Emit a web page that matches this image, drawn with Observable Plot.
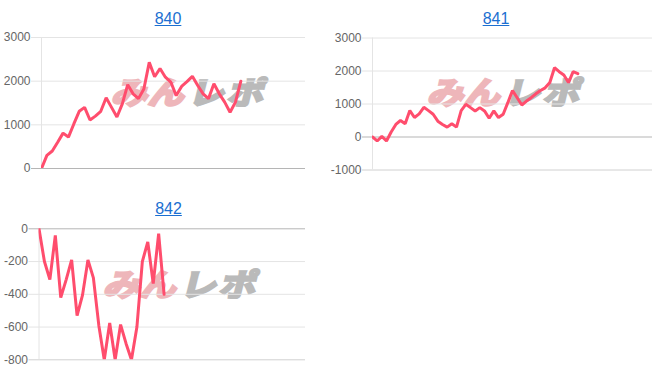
<!DOCTYPE html>
<html>
<head>
<meta charset="utf-8">
<script src="https://cdn.jsdelivr.net/npm/d3@7"></script>
<script src="https://cdn.jsdelivr.net/npm/@observablehq/plot@0.6"></script>
<style>
  body { margin: 0; background: #fff; font-family: "Liberation Sans", Arial, sans-serif; }
  #page { position: relative; width: 652px; height: 382px; overflow: hidden; }
  .title { position: absolute; width: 100px; text-align: center; font-size: 16px; line-height: 16px; }
  .title a { color: #1b6fd1; text-decoration: underline; }
  .wm { position: absolute; font-family: "Noto Sans CJK JP", sans-serif; font-weight: 700; font-size: 31px; line-height: 31px; white-space: nowrap; transform-origin: left top; transform: skewX(-14deg) scaleX(1.18); }
  .wm .p { color: #eeb6ba; -webkit-text-stroke: 2.5px #eeb6ba; }
  .wm .g { color: #bababa; -webkit-text-stroke: 2.5px #bababa; margin-left: 3px; letter-spacing: 2px; }
  .chart { position: absolute; }
  .chart svg { display: block; }
</style>
</head>
<body>
<div id="page"></div>
<script>
// ---- data ----
const titles = ["840", "841", "842"];

const values840 = [0, 300, 400, 600, 810, 720, 1020, 1310, 1400, 1110, 1200, 1310, 1620, 1400, 1180,
  1480, 1920, 1710, 1600, 1820, 2430, 2100, 2290, 2090, 1980, 1670, 1880, 1990, 2110, 1900,
  1710, 1600, 1940, 1710, 1520, 1290, 1520, 2000];
const values841 = [0, -120, 20, -120, 150, 380, 500, 400, 800, 590, 700, 900, 800, 690, 480,
  380, 300, 400, 300, 800, 990, 890, 790, 890, 790, 570, 790, 590, 690, 1040,
  1410, 1190, 970, 1090, 1190, 1310, 1410, 1490, 1650, 2100, 1980, 1880, 1650, 1980, 1920];
const values842 = [0, -200, -310, -40, -420, -310, -190, -530, -405, -190, -300, -590, -800, -575, -800,
  -585, -700, -800, -600, -200, -80, -335, -30, -400];

const ticks840 = [0, 1000, 2000, 3000];
const ticks841 = [-1000, 0, 1000, 2000, 3000];
const ticks842 = [-800, -600, -400, -200, 0];

const watermark = ["みん", "レポ"];

// ---- layout ----
const page = document.getElementById("page");

function addTitle(text, cx, top) {
  const d = document.createElement("div");
  d.className = "title";
  d.style.left = (cx - 50) + "px";
  d.style.top = top + "px";
  const a = document.createElement("a");
  a.href = "#";
  a.textContent = text;
  d.appendChild(a);
  page.appendChild(d);
}

function addWatermark(left, top) {
  const d = document.createElement("div");
  d.className = "wm";
  d.style.left = left + "px";
  d.style.top = top + "px";
  d.innerHTML = `<span class="p">${watermark[0]}</span><span class="g">${watermark[1]}</span>`;
  page.appendChild(d);
}

function addChart(opts) {
  const data = opts.values.map((v, i) => ({i, v}));
  const svg = Plot.plot({
    width: opts.width,
    height: 150,
    marginLeft: opts.ml,
    marginRight: opts.mr,
    marginTop: opts.mt,
    marginBottom: opts.mb,
    style: {background: "transparent", fontFamily: "'Liberation Sans', Arial, sans-serif", fontSize: "12px", color: "#666", overflow: "visible"},
    x: {domain: [0, opts.xmax], axis: null},
    y: {domain: opts.domain, ticks: opts.ticks, tickFormat: d => String(d), tickSize: 0, tickPadding: 11, label: null},
    marks: [
      Plot.ruleY(opts.ticks, {stroke: d => d === 0 ? "#b5b5b5" : (d === opts.domain[0] ? "#d0d0d0" : "#e4e4e4"), insetLeft: -10}),
      Plot.ruleX([0], {stroke: "#e4e4e4"}),
      Plot.line(data, {x: "i", y: "v", stroke: "#ff4d6d", strokeWidth: 3, strokeLinejoin: "miter", clip: true})
    ]
  });
  const wrap = document.createElement("div");
  wrap.className = "chart";
  wrap.style.left = opts.left + "px";
  wrap.style.top = opts.top + "px";
  wrap.appendChild(svg);
  page.appendChild(wrap);
}

addTitle(titles[0], 168, 10.5);
addTitle(titles[1], 496, 10.5);
addTitle(titles[2], 168.5, 200.5);

addWatermark(118, 75);
addWatermark(434, 75);
addWatermark(110, 267);

addChart({values: values840, ticks: ticks840, domain: [0, 3000], xmax: 49,
  left: 0, top: 30, width: 326, ml: 41, mr: 21, mt: 7, mb: 12});
addChart({values: values841, ticks: ticks841, domain: [-1000, 3000], xmax: 60,
  left: 326, top: 30, width: 326, ml: 46, mr: 0, mt: 7.5, mb: 10.5});
addChart({values: values842, ticks: ticks842, domain: [-800, 0], xmax: 49,
  left: 0, top: 222, width: 326, ml: 38.5, mr: 21, mt: 6.3, mb: 12.7});
</script>
</body>
</html>
